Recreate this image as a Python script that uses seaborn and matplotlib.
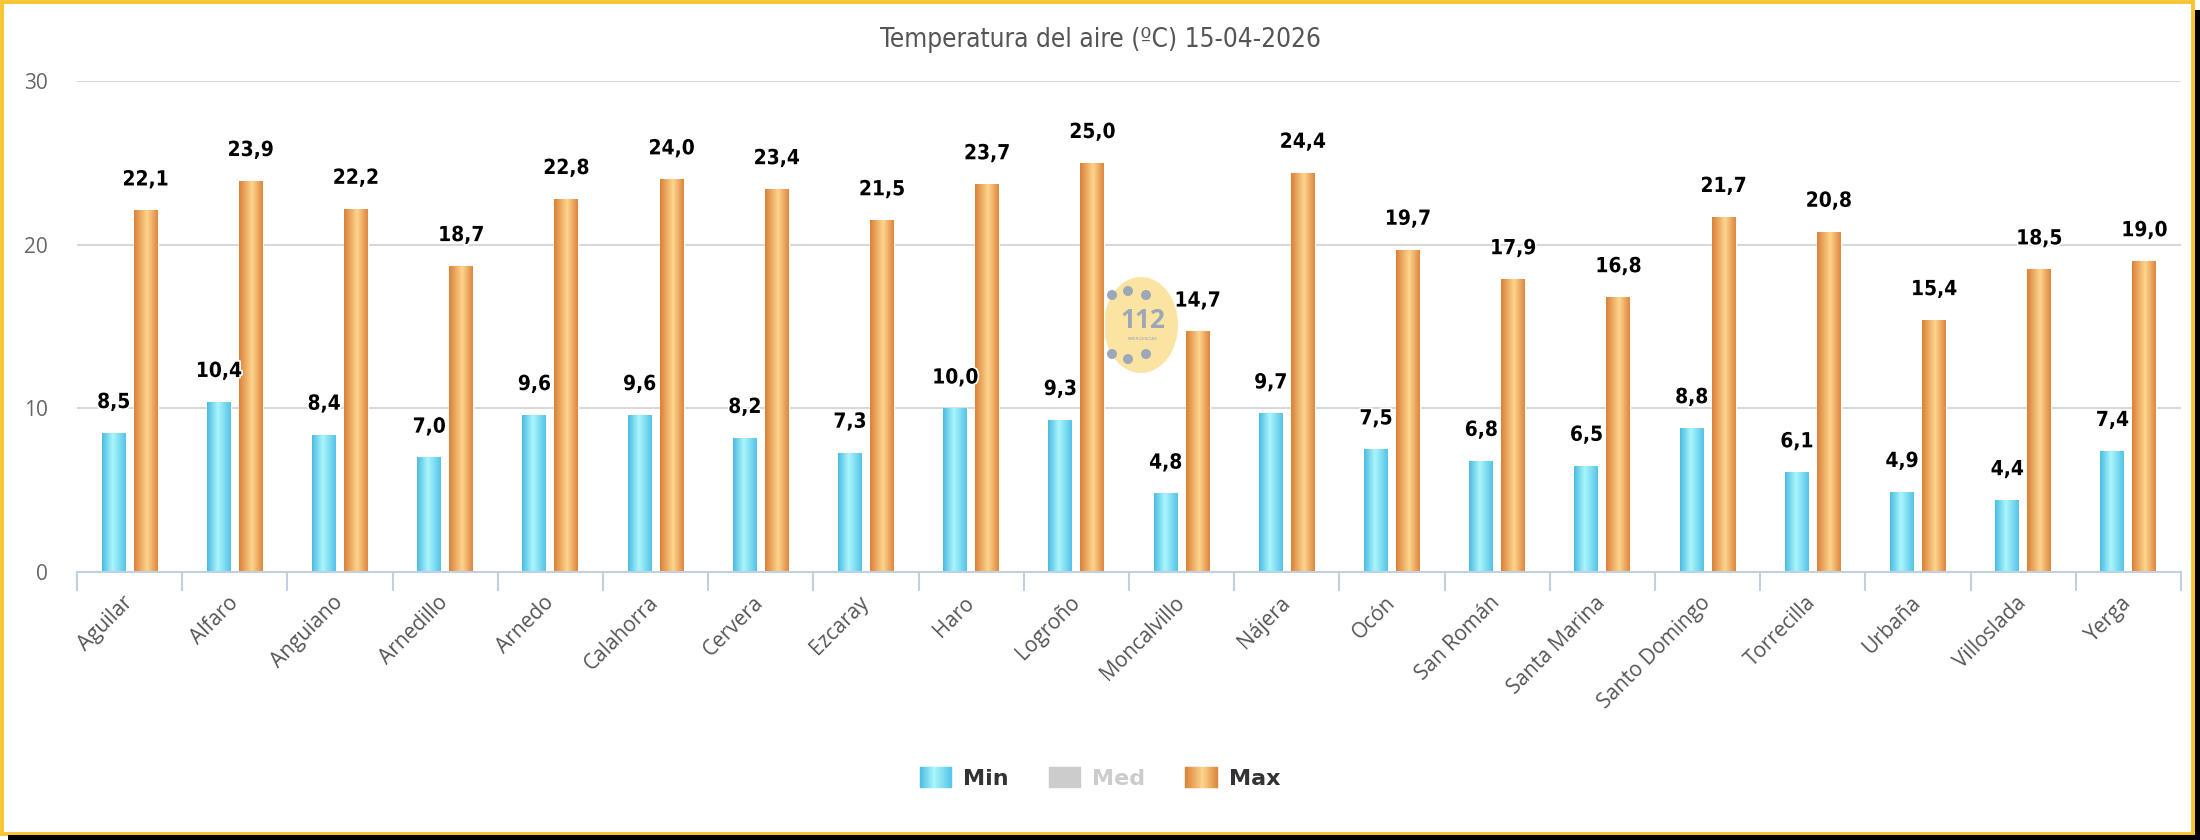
import numpy as np
import pandas as pd
import matplotlib
matplotlib.use("Agg")
import matplotlib.pyplot as plt
import seaborn as sns
import matplotlib.patheffects as pe
from matplotlib.patches import Rectangle, Patch, Ellipse
from matplotlib.legend_handler import HandlerBase
from matplotlib.colors import LinearSegmentedColormap

# Datos
estaciones = ["Aguilar", "Alfaro", "Anguiano", "Arnedillo", "Arnedo", "Calahorra",
              "Cervera", "Ezcaray", "Haro", "Logroño", "Moncalvillo", "Nájera",
              "Ocón", "San Román", "Santa Marina", "Santo Domingo", "Torrecilla",
              "Urbaña", "Villoslada", "Yerga"]
t_min = [8.5, 10.4, 8.4, 7.0, 9.6, 9.6, 8.2, 7.3, 10.0, 9.3,
         4.8, 9.7, 7.5, 6.8, 6.5, 8.8, 6.1, 4.9, 4.4, 7.4]
t_max = [22.1, 23.9, 22.2, 18.7, 22.8, 24.0, 23.4, 21.5, 23.7, 25.0,
         14.7, 24.4, 19.7, 17.9, 16.8, 21.7, 20.8, 15.4, 18.5, 19.0]
series = ["Min", "Med", "Max"]
y_ticks = [0, 10, 20, 30]
titulo = "Temperatura del aire (ºC) 15-04-2026"

W, H = 2200, 840
NARROW = ["DejaVu Sans"]
SANS = ["Open Sans", "DejaVu Sans"]

# gradientes horizontales de las barras
grad = {
    "Min": LinearSegmentedColormap.from_list("min", [(0, "#4bbbe2"), (0.45, "#aaf6fc"), (1, "#56c4e8")]),
    "Med": LinearSegmentedColormap.from_list("med", ["#cccccc", "#cccccc"]),
    "Max": LinearSegmentedColormap.from_list("max", [(0, "#db8139"), (0.55, "#fed58d"), (1, "#de873f")]),
}


def px(x, y):
    # pixel (desde arriba-izquierda) -> fraccion de figura
    return x / W, 1 - y / H


class GradientHandler(HandlerBase):
    def create_artists(self, legend, orig_handle, xdescent, ydescent,
                       width, height, fontsize, trans):
        cmap = grad[orig_handle.get_label()]
        n = 24
        arts = []
        for k in range(n):
            c = cmap((k + 0.5) / n)
            arts.append(Rectangle((-xdescent + k * width / n, -ydescent), width / n, height,
                                  facecolor=c, edgecolor=c, lw=0.3, transform=trans))
        return arts


df = pd.DataFrame({
    "Estacion": estaciones * 2,
    "Serie": ["Min"] * len(estaciones) + ["Max"] * len(estaciones),
    "Valor": t_min + t_max,
})

sns.set_style("white")
fig = plt.figure(figsize=(W / 100, H / 100), dpi=100, facecolor="white")
x0, y0 = px(77, 572)
x1, y1 = px(2181, 81)
ax = fig.add_axes([x0, y0, x1 - x0, y1 - y0])
ax.patch.set_visible(False)

sns.barplot(data=df, x="Estacion", y="Valor", hue="Serie", hue_order=["Min", "Max"],
            order=estaciones, width=0.608, gap=0.25, palette=["#7fd8ef", "#eea862"],
            legend=False, errorbar=None, ax=ax)

# gradiente + etiquetas sobre cada barra
bars = [p for p in ax.patches if isinstance(p, Rectangle) and p.get_height() > 0]
for p in bars:
    bx = p.get_x() + p.get_width() / 2
    idx = int(round(bx))
    serie = "Min" if bx < idx else "Max"
    bb = p.get_bbox()
    img = grad[serie](np.linspace(0, 1, 64))[None, :, :]
    im = ax.imshow(img, extent=(bb.x0, bb.x1, bb.y0, bb.y1), aspect="auto",
                   interpolation="bilinear", zorder=2)
    im.set_clip_path(p)
    val = p.get_height()
    ax.annotate(f"{val:.1f}".replace(".", ","), xy=(bx, val), xytext=(0, 15),
                textcoords="offset points", ha="center", va="bottom",
                fontsize=15, fontweight="bold", fontstretch="condensed", color="black",
                family=NARROW,
                path_effects=[pe.withStroke(linewidth=2.5, foreground="white")], zorder=5)

ax.set_xlim(-0.5, len(estaciones) - 0.5)
ax.set_ylim(0, 30)
ax.set_xlabel("")
ax.set_ylabel("")

# ejes y rejilla
for s in ["top", "right", "left"]:
    ax.spines[s].set_visible(False)
ax.spines["bottom"].set_color("#c0d0e0")
ax.spines["bottom"].set_linewidth(1.5)
ax.set_yticks(y_ticks)
ax.yaxis.grid(True, color="#d8d8d8", linewidth=1.5)
ax.set_axisbelow(True)
ax.tick_params(axis="y", length=0, pad=21, labelsize=15, labelcolor="#666666")
for t in ax.get_yticklabels():
    t.set_family(SANS)

ax.set_xticks(range(len(estaciones)))
ax.set_xticks(np.arange(-0.5, len(estaciones), 1), minor=True)
ax.tick_params(axis="x", which="both", bottom=True)
ax.tick_params(axis="x", which="minor", length=13.7, width=1.5, color="#c0d0e0", direction="out")
ax.tick_params(axis="x", which="major", length=0, pad=20)
ax.set_xticklabels(estaciones, rotation=45, ha="right", va="center",
                   rotation_mode="anchor", fontsize=15, color="#555555", family=SANS)

# titulo
tx, ty = px(1100, 40)
fig.text(tx, ty, titulo, ha="center", va="center", fontsize=18.8, fontstretch="condensed",
         color="#555555", family=NARROW)

# marca de agua 112
cx, cy = px(1141, 325)
ax.add_patch(Ellipse((cx, cy), 74 / W, 96 / H, transform=fig.transFigure,
                     facecolor="#fbe3a1", edgecolor="none", zorder=0.6, clip_on=False))
for dxp, dyp in [(1112, 295), (1128, 291), (1146, 295), (1112, 354), (1128, 359), (1146, 354)]:
    dx, dy = px(dxp, dyp)
    ax.add_patch(Ellipse((dx, dy), 10 / W, 10 / H, transform=fig.transFigure,
                         facecolor="#9ca8b8", edgecolor="none", zorder=0.7, clip_on=False))
lx, ly = px(1143, 321)
fig.text(lx, ly, "112", ha="center", va="center", fontsize=19, fontweight="bold",
         color="#9ca8b8", family=SANS, zorder=0.7)
lx, ly = px(1143, 339)
fig.text(lx, ly, "EMERGENCIAS", ha="center", va="center", fontsize=3, color="#9ca8b8", zorder=0.7)

# leyenda
handles = [Patch(label=s) for s in series]
lgx, lgy = px(1100, 778)
leg = fig.legend(handles, series, loc="center", bbox_to_anchor=(lgx, lgy), ncol=3, frameon=False,
                 handler_map={Patch: GradientHandler()},
                 prop={"weight": "bold", "size": 16, "family": "DejaVu Sans"},
                 handlelength=1.45, handleheight=1.1, handletextpad=0.5, columnspacing=1.8)
for t, c in zip(leg.get_texts(), ["#333333", "#cccccc", "#333333"]):
    t.set_color(c)

# marco amarillo con sombra
bx0, by0 = px(2, 834)
bx1, by1 = px(2193, 2)
fig.add_artist(Rectangle((bx0, by0), bx1 - bx0, by1 - by0, transform=fig.transFigure,
                         fill=False, edgecolor="#f7c531", linewidth=2.8))
sx, sy = px(2195, 840)
fig.add_artist(Rectangle((sx, sy), 5 / W, 830 / H, transform=fig.transFigure,
                         facecolor="black", edgecolor="none"))
sx, sy = px(8, 840)
fig.add_artist(Rectangle((sx, sy), 2192 / W, 5 / H, transform=fig.transFigure,
                         facecolor="black", edgecolor="none"))

fig.savefig("out.png", dpi=100, facecolor="white")
